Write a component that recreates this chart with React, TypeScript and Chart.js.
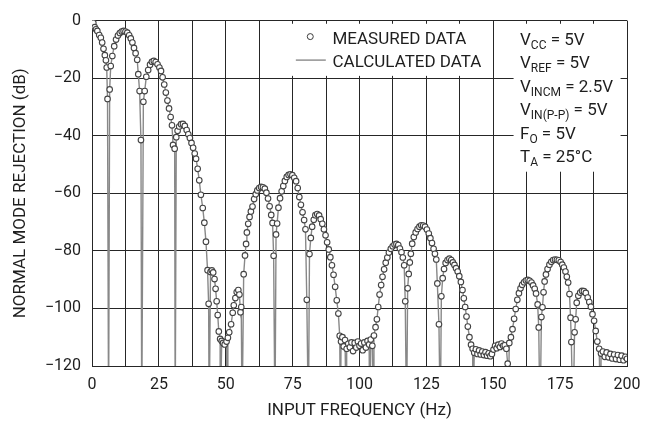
import { useEffect, useRef } from 'react';
import { Chart, registerables } from 'chart.js';

Chart.register(...registerables);

// ---- data ----
const measuredFreq = [
  0, 0.5, 1, 1.5, 2, 2.7, 3.3, 3.8, 4.3, 4.8, 5.2, 5.5, 5.8,
  6.6, 7.0, 7.6, 8.3, 9.0, 9.7, 10.4, 11.1, 11.8, 12.5, 13.2, 13.9, 14.5, 15.1, 15.7, 16.3, 16.9, 17.3, 17.8, 18.3,
  19.2, 19.7, 20.3, 21.0, 21.7, 22.4, 23.1, 23.8, 24.5, 25.2, 25.8, 26.4, 27.0, 27.6, 28.2, 28.8, 29.4, 29.9, 30.3, 30.9,
  31.5, 32.0, 32.6, 33.3, 34.0, 34.7, 35.4, 36.0, 36.6, 37.2, 37.8, 38.4, 38.9, 39.5, 40.1, 40.7, 41.4, 42.0, 42.6, 43.2, 43.6,
  44.3, 44.8, 45.3, 45.8, 46.2, 46.6, 47.0, 47.4, 47.9, 48.5, 49.0, 49.6, 50.3, 50.8, 51.3, 52.0, 52.6, 53.0, 53.6, 54.1, 54.7, 55.1, 55.5, 55.8,
  56.7, 57.2, 57.6, 57.9, 58.4, 58.9, 59.4, 60.0, 60.6, 61.2, 61.8, 62.5, 63.2, 63.9, 64.6, 65.2, 65.8, 66.4, 67.0, 67.5, 67.9,
  68.8, 69.2, 69.7, 70.3, 70.9, 71.5, 72.1, 72.8, 73.5, 74.2, 74.9, 75.6, 76.3, 76.9, 77.5, 78.1, 78.7, 79.3, 79.8, 80.3,
  81.3, 81.8, 82.3, 82.9, 83.5, 84.2, 84.9, 85.5, 86.1, 86.7, 87.3, 87.9, 88.5, 89.1, 89.7, 90.3, 90.9, 91.5, 92.1, 92.6,
  93.1, 93.6, 94.1, 94.6, 95.2, 95.8, 96.4, 97.0, 97.6, 98.2, 98.8, 99.4, 100.0, 100.6, 101.2, 101.8, 102.4, 103.0, 103.6, 104.2, 104.8, 105.4,
  106.0, 106.5, 107.0, 107.5, 108.1, 108.6, 109.2, 109.8, 110.4, 111.0, 111.7, 112.4, 113.1, 113.8, 114.5, 115.1, 115.7, 116.2, 116.7, 117.1,
  118.0, 118.4, 118.8, 119.2, 119.7, 120.3, 121.0, 121.7, 122.4, 123.1, 123.8, 124.5, 125.2, 125.9, 126.5, 127.1, 127.7, 128.2, 128.7, 129.1, 129.7,
  130.6, 131.1, 131.6, 132.2, 132.9, 133.6, 134.3, 134.9, 135.5, 136.1, 136.7, 137.3, 137.9, 138.5, 139.0, 139.5, 140.0, 140.5, 141.1, 141.7,
  142.3, 142.9, 143.5, 144.1, 144.7, 145.3, 145.9, 146.5, 147.1, 147.7, 148.3, 148.9, 149.5, 150.1, 150.7, 151.3, 151.9, 152.5, 153.1, 153.7, 154.3, 154.9, 155.4,
  156.0, 156.6, 157.2, 157.8, 158.4, 159.0, 159.6, 160.2, 160.8, 161.5, 162.2, 162.9, 163.6, 164.3, 164.9, 165.5, 166.0, 166.6, 167.0,
  168.0, 168.4, 168.8, 169.2, 169.7, 170.3, 171.0, 171.7, 172.4, 173.1, 173.8, 174.5, 175.2, 175.8, 176.4, 177.0, 177.5, 178.0, 178.5, 178.9, 179.2,
  180.4, 180.8, 181.2, 181.8, 182.5, 183.2, 183.9, 184.6, 185.3, 185.9, 186.5, 187.1, 187.7, 188.3, 188.9, 189.6,
  190.3, 191.0, 191.7, 192.4, 193.1, 193.8, 194.5, 195.2, 195.9, 196.6, 197.3, 198.0, 198.7, 199.4, 200.0,
];

const measuredDb = [
  -0.3, -0.8, -2.3, -3.0, -3.6, -5.0, -6.0, -7.6, -9.8, -12.0, -13.8, -16.3, -27.2,
  -23.9, -15.8, -12.3, -8.9, -6.6, -5.2, -4.3, -3.8, -3.6, -3.8, -4.2, -5.1, -6.2, -7.6, -9.5, -11.3, -13.6, -18.6, -24.5, -41.5,
  -28.2, -24.5, -19.5, -17.2, -15.3, -14.3, -14.0, -14.4, -15.2, -16.3, -17.5, -19.7, -22.2, -25.0, -27.8, -30.5, -33.5, -36.4, -43.2, -44.5,
  -40.5, -38.3, -36.8, -36.0, -35.9, -36.6, -38.0, -39.5, -40.8, -42.5, -44.2, -46.2, -48.0, -51.5, -55.5, -60.5, -65.1, -70.2, -76.8, -86.7, -98.4,
  -87.3, -86.8, -87.5, -89.8, -93.2, -97.5, -102.3, -108.0, -110.6, -111.3, -112.0, -112.5, -111.5, -110.2, -108.3, -105.5, -101.5, -98.9, -96.4, -94.3, -93.6, -95.2, -101.3, -99.5,
  -88.1, -81.6, -77.6, -73.6, -70.6, -68.2, -66.3, -64.6, -62.0, -60.3, -59.0, -58.2, -57.8, -57.9, -58.4, -59.8, -61.8, -64.5, -67.5, -70.3, -81.7,
  -74.3, -70.5, -65.0, -61.7, -59.3, -57.5, -55.7, -54.3, -53.6, -53.4, -53.7, -54.6, -55.8, -58.2, -61.3, -64.0, -66.6, -69.3, -72.5, -97.0,
  -81.1, -75.5, -71.6, -69.2, -67.6, -67.2, -67.7, -69.0, -70.6, -72.5, -74.6, -77.0, -79.5, -82.2, -85.0, -88.3, -92.5, -97.2, -101.8, -109.5,
  -111.5, -110.0, -113.2, -111.0, -114.0, -112.3, -113.5, -111.8, -114.8, -112.0, -113.6, -111.5, -113.0, -112.2, -114.5, -111.8, -113.6, -111.3, -112.5, -110.8, -113.0, -109.4,
  -106.5, -103.8, -99.5, -95.2, -91.9, -89.0, -86.4, -84.1, -82.3, -80.6, -79.3, -78.4, -77.8, -77.6, -78.0, -79.2, -80.5, -82.3, -85.0, -97.5,
  -93.0, -88.0, -84.0, -81.0, -77.5, -75.2, -73.6, -72.4, -71.6, -71.1, -71.2, -71.6, -72.6, -74.0, -75.6, -77.3, -79.3, -81.0, -83.0, -91.3, -105.5,
  -95.8, -89.5, -86.3, -84.2, -83.2, -82.7, -83.2, -84.0, -84.9, -86.0, -87.2, -88.8, -90.8, -93.6, -96.5, -99.5, -102.8, -106.3, -110.0, -112.6,
  -114.0, -115.4, -114.2, -115.8, -114.6, -116.0, -115.0, -116.2, -115.2, -116.4, -115.6, -116.6, -115.8, -114.3, -113.0, -113.8, -112.6, -113.4, -112.2, -113.0, -112.8, -114.0, -119.2,
  -112.0, -110.0, -107.2, -103.6, -100.2, -97.0, -94.7, -93.0, -91.8, -90.9, -90.3, -90.1, -90.4, -91.0, -92.0, -93.2, -94.8, -98.6, -106.6,
  -103.0, -99.6, -94.4, -90.6, -88.2, -86.3, -84.8, -83.8, -83.2, -83.0, -83.1, -83.3, -83.9, -84.8, -85.8, -87.2, -89.0, -91.0, -95.0, -103.2, -111.7,
  -108.3, -103.8, -98.0, -95.6, -94.5, -93.9, -94.0, -94.6, -96.2, -97.8, -99.4, -102.0, -104.3, -107.8, -111.5, -114.0,
  -115.7, -115.0, -116.8, -115.3, -117.0, -115.8, -117.4, -116.0, -117.6, -116.2, -117.8, -116.4, -118.0, -116.8, -117.5,
];

// frequencies where the calculated response has a notch (goes below the axis floor)
const notchFreq = [6.2, 18.6, 31.1, 43.8, 47.9, 50.5, 56.1, 68.4, 80.9, 92.9, 95.0, 103.8, 105.2, 117.6, 130.2, 142.4, 155.5, 167.5, 179.8, 190.2];
const notchDb = -140;

const xTickValues = [0, 25, 50, 75, 100, 125, 150, 175, 200];
const yTickValues = [0, -20, -40, -60, -80, -100, -120];
const legendLabels = ['MEASURED DATA', 'CALCULATED DATA'];
const conditionLines: [string, string, string][] = [
  ['V', 'CC', ' = 5V'],
  ['V', 'REF', ' = 5V'],
  ['V', 'INCM', ' = 2.5V'],
  ['V', 'IN(P-P)', ' = 5V'],
  ['F', 'O', ' = 5V'],
  ['T', 'A', ' = 25°C'],
];
const xTitle = 'INPUT FREQUENCY (Hz)';
const yTitle = 'NORMAL MODE REJECTION (dB)';

const FONT = 'Roboto, "Liberation Sans", Arial, sans-serif';
const TEXT = '#1e1e1e';
const GRID = '#262626';

export default function App() {
  const ref = useRef<HTMLCanvasElement>(null);

  useEffect(() => {
    const canvas = ref.current;
    if (!canvas) return;

    const measured = measuredFreq.map((x, i) => ({ x, y: measuredDb[i] }));
    const calculated = [
      ...measured,
      ...notchFreq.map((x) => ({ x, y: notchDb })),
    ].sort((a, b) => a.x - b.x);

    const overlay = {
      id: 'overlay',
      afterDraw(chart: any) {
        const { ctx, chartArea } = chart;
        const xs = chart.scales.x;
        const ys = chart.scales.y;
        const top = chartArea.top;
        ctx.save();
        // white boxes masking the grid
        ctx.fillStyle = '#ffffff';
        const box = (x0: number, x1: number, y0: number, y1: number) => {
          const l = xs.getPixelForValue(x0);
          const r = xs.getPixelForValue(x1);
          const t = ys.getPixelForValue(y0);
          const b = ys.getPixelForValue(y1);
          ctx.fillRect(l, t, r - l, b - t);
        };
        box(73.6, 149.0, -1.1, -19.2);
        box(157.6, 197.6, -1.1, -52.5);

        // legend
        ctx.strokeStyle = '#3c3c3c';
        ctx.lineWidth = 1;
        ctx.beginPath();
        ctx.arc(xs.getPixelForValue(81.6), top + 16, 3, 0, Math.PI * 2);
        ctx.stroke();
        ctx.strokeStyle = '#8a8a8a';
        ctx.lineWidth = 1.4;
        ctx.beginPath();
        ctx.moveTo(xs.getPixelForValue(76.2), top + 39.5);
        ctx.lineTo(xs.getPixelForValue(87.4), top + 39.5);
        ctx.stroke();
        ctx.fillStyle = TEXT;
        ctx.font = `17px ${FONT}`;
        ctx.textBaseline = 'alphabetic';
        ctx.textAlign = 'left';
        const lx = xs.getPixelForValue(89.9);
        ctx.fillText(legendLabels[0], lx, top + 23.5);
        ctx.fillText(legendLabels[1], lx, top + 46);

        // conditions
        const cx = xs.getPixelForValue(160.0);
        conditionLines.forEach(([main, sub, rest], i) => {
          const base = top + 24 + i * 23.5;
          let px = cx;
          ctx.font = `17px ${FONT}`;
          ctx.fillText(main, px, base);
          px += ctx.measureText(main).width;
          ctx.font = `12px ${FONT}`;
          ctx.fillText(sub, px, base + 4);
          px += ctx.measureText(sub).width;
          ctx.font = `17px ${FONT}`;
          ctx.fillText(rest, px, base);
        });
        ctx.restore();
      },
    };

    const chart = new Chart(canvas, {
      type: 'scatter',
      data: {
        datasets: [
          {
            label: legendLabels[0],
            data: measured,
            showLine: false,
            pointRadius: 2.8,
            pointBorderWidth: 1.1,
            pointBorderColor: '#444444',
            pointBackgroundColor: '#ffffff',
            order: 0,
          },
          {
            label: legendLabels[1],
            data: calculated,
            showLine: true,
            pointRadius: 0,
            borderColor: '#888888',
            borderWidth: 1.4,
            order: 1,
          },
        ],
      },
      options: {
        animation: false,
        responsive: false,
        layout: { padding: { top: 14, right: 25, bottom: 0, left: 0 } },
        plugins: { legend: { display: false }, tooltip: { enabled: false } },
        scales: {
          x: {
            type: 'linear',
            min: 0,
            max: 200,
            afterFit: (s: any) => { s.height = 55; },
            afterBuildTicks: (s: any) => {
              const t = [];
              for (let v = 0; v <= 200; v += 12.5) t.push({ value: v });
              s.ticks = t;
            },
            ticks: {
              autoSkip: false,
              maxRotation: 0,
              padding: 9,
              color: TEXT,
              font: { family: FONT, size: 16 },
              callback: (v: any) => (xTickValues.includes(Number(v)) ? String(v) : ''),
            },
            grid: { color: GRID, lineWidth: 1, drawTicks: false },
            border: { display: true, color: GRID },
            title: {
              display: true,
              text: xTitle,
              color: TEXT,
              font: { family: FONT, size: 17 },
              padding: { top: 0, bottom: 0 },
            },
          },
          y: {
            type: 'linear',
            min: -120,
            max: 0,
            afterFit: (s: any) => { s.width = 92; },
            afterBuildTicks: (s: any) => {
              s.ticks = yTickValues.slice().reverse().map((v) => ({ value: v }));
            },
            ticks: {
              padding: 11,
              color: TEXT,
              font: { family: FONT, size: 16 },
              callback: (v: any) => (Number(v) === 0 ? '0' : '\u2212' + Math.abs(Number(v))),
            },
            grid: { color: GRID, lineWidth: 1, drawTicks: false },
            border: { display: true, color: GRID },
            title: {
              display: true,
              text: yTitle,
              color: TEXT,
              font: { family: FONT, size: 17 },
              padding: { top: 11, bottom: 0 },
            },
          },
        },
      },
      plugins: [overlay],
    } as any);

    return () => chart.destroy();
  }, []);

  return (
    <div style={{ position: 'fixed', left: 0, top: 0, width: 652, height: 421, background: '#fff' }}>
      <canvas ref={ref} width={652} height={421} style={{ display: 'block', width: 652, height: 421 }} />
    </div>
  );
}
